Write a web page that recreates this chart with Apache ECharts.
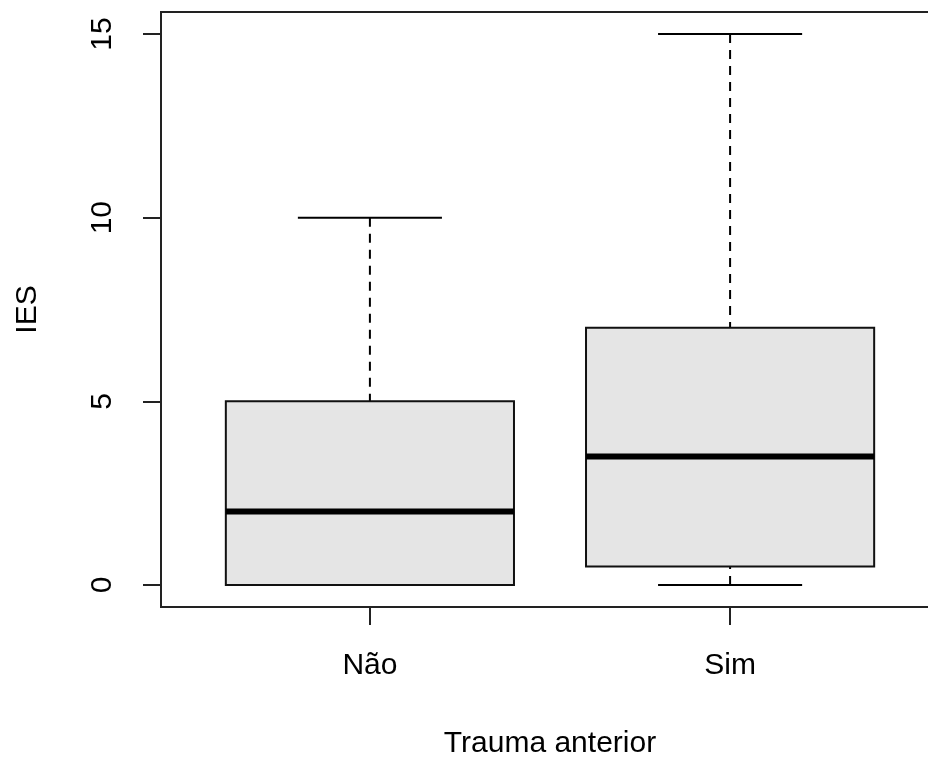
<!DOCTYPE html>
<html>
<head>
<meta charset="utf-8">
<script src="https://cdn.jsdelivr.net/npm/echarts@6/dist/echarts.min.js"></script>
<style>
html,body{margin:0;padding:0;background:#fff;}
#chart{width:928px;height:758px;}
</style>
</head>
<body>
<div id="chart"></div>
<script>
// Data
const categories = ['Não', 'Sim'];
const whiskerLow = [0, 0];
const q1 = [0, 0.5];
const medians = [2, 3.5];
const q3 = [5, 7];
const whiskerHigh = [10, 15];
const yTicks = [0, 5, 10, 15];
const xTicks = [1, 2];

const FONT = '"Liberation Sans", Arial, sans-serif';
const LINE = '#222';

const boxData = categories.map((c, i) => [i + 1, whiskerLow[i], q1[i], medians[i], q3[i], whiskerHigh[i]]);

const chart = echarts.init(document.getElementById('chart'), null, {renderer: 'canvas'});

chart.setOption({
  animation: false,
  backgroundColor: '#fff',
  grid: {
    left: 161, top: 12, width: 778, height: 595,
    outerBoundsMode: 'none', containLabel: false,
    show: true, borderColor: LINE, borderWidth: 2, backgroundColor: 'transparent'
  },
  xAxis: {
    type: 'value', min: 0.42, max: 2.58,
    name: 'Trauma anterior', nameLocation: 'middle', nameGap: 122,
    nameTextStyle: {fontFamily: FONT, fontSize: 30, color: '#000'},
    axisLine: {show: false, onZero: false},
    splitLine: {show: false},
    axisTick: {show: true, customValues: xTicks, length: 18, inside: false, lineStyle: {color: LINE, width: 2}},
    axisLabel: {
      customValues: xTicks, margin: 44, fontFamily: FONT, fontSize: 30, color: '#000',
      formatter: v => categories[Math.round(v) - 1]
    }
  },
  yAxis: {
    type: 'value', min: -0.6, max: 15.6,
    name: 'IES', nameLocation: 'middle', nameGap: 118, nameRotate: 90,
    nameTextStyle: {fontFamily: FONT, fontSize: 30, color: '#000'},
    axisLine: {show: false, onZero: false},
    splitLine: {show: false},
    axisTick: {show: true, customValues: yTicks, length: 18, inside: false, lineStyle: {color: LINE, width: 2}},
    axisLabel: {
      customValues: yTicks, rotate: 90, margin: 43, fontFamily: FONT, fontSize: 30, color: '#000'
    }
  },
  series: [{
    type: 'custom',
    data: boxData,
    encode: {x: 0, y: [1, 2, 3, 4, 5]},
    renderItem: function (params, api) {
      const x = api.value(0);
      const lo = api.value(1), b1 = api.value(2), med = api.value(3), b3 = api.value(4), hi = api.value(5);
      const half = 0.4, capHalf = 0.2;
      const pL = api.coord([x - half, b3]);
      const pR = api.coord([x + half, b1]);
      const cHi = api.coord([x, hi]);
      const cLo = api.coord([x, lo]);
      const cB3 = api.coord([x, b3]);
      const cB1 = api.coord([x, b1]);
      const capL = api.coord([x - capHalf, 0])[0];
      const capR = api.coord([x + capHalf, 0])[0];
      const mL = api.coord([x - half, med]);
      const mR = api.coord([x + half, med]);
      const dash = {stroke: '#000', lineWidth: 2, lineDash: [9, 7]};
      const children = [];
      if (cHi[1] < cB3[1]) children.push({type: 'line', shape: {x1: cHi[0], y1: cHi[1], x2: cB3[0], y2: cB3[1]}, style: dash});
      if (cLo[1] > cB1[1]) children.push({type: 'line', shape: {x1: cLo[0], y1: cLo[1], x2: cB1[0], y2: cB1[1]}, style: dash});
      children.push({type: 'line', shape: {x1: capL, y1: cHi[1], x2: capR, y2: cHi[1]}, style: {stroke: '#000', lineWidth: 2}});
      children.push({type: 'line', shape: {x1: capL, y1: cLo[1], x2: capR, y2: cLo[1]}, style: {stroke: '#000', lineWidth: 2}});
      children.push({type: 'rect', shape: {x: pL[0], y: pL[1], width: pR[0] - pL[0], height: pR[1] - pL[1]},
        style: {fill: '#E5E5E5', stroke: '#111', lineWidth: 2}});
      children.push({type: 'line', shape: {x1: mL[0], y1: mL[1], x2: mR[0], y2: mR[1]}, style: {stroke: '#000', lineWidth: 6}});
      return {type: 'group', children: children};
    }
  }]
});
</script>
</body>
</html>
